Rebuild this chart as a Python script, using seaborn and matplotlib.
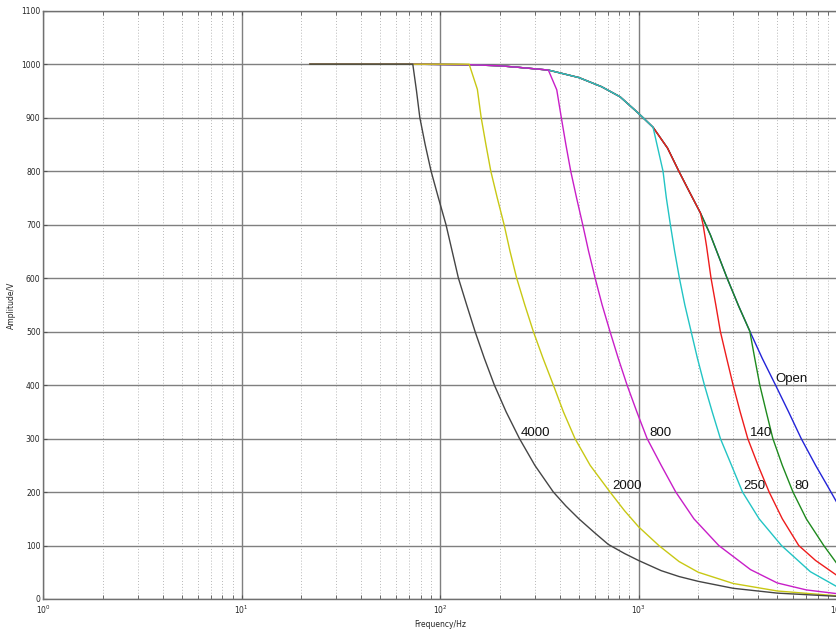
import numpy as np
import pandas as pd
import matplotlib
matplotlib.use("Agg")
import matplotlib.pyplot as plt
import seaborn as sns
from matplotlib.ticker import LogLocator, NullFormatter

# ---- data (frequency in Hz, amplitude in V) ----
env_f = [22, 72, 140, 200, 250, 351, 500, 650, 807, 1000, 1183, 1400, 1595, 1800, 2049, 2300, 2793, 3200, 3633]
env_v = [1000, 1000, 999, 997, 994, 989, 975, 958, 939, 908, 882, 843, 800, 762, 722, 681, 600, 547, 501]

open_f = env_f + [4200, 4900, 5700, 6600, 7800, 9000, 10000]
open_v = env_v + [450, 400, 350, 300, 250, 210, 180]

r80_f = env_f + [3850, 4083, 4400, 4750, 5300, 6000, 7000, 8575, 10000]
r80_v = env_v + [450, 400, 350, 300, 250, 200, 150, 100, 66]

r140_f = env_f[:15] + [2114, 2200, 2318, 2450, 2584, 2780, 2995, 3250, 3550, 4000, 4550, 5300, 6415, 7800, 10000]
r140_v = env_v[:15] + [700, 660, 600, 550, 500, 450, 400, 350, 300, 250, 200, 150, 100, 72, 44]

r250_f = env_f[:11] + [1328, 1380, 1446, 1520, 1606, 1710, 1840, 1980, 2147, 2350, 2584, 2940, 3340, 4050, 5250, 7343, 10000]
r250_v = env_v[:11] + [800, 750, 700, 650, 600, 550, 500, 450, 400, 350, 300, 250, 200, 150, 100, 51, 23]

r800_f = env_f[:6] + [387, 408, 430, 455, 487, 523, 560, 604, 655, 718, 790, 875, 980, 1104, 1300, 1540, 1900, 2536, 3664, 5000, 7000, 10000]
r800_v = env_v[:6] + [952, 900, 850, 800, 750, 700, 650, 600, 550, 500, 450, 400, 350, 300, 250, 200, 150, 100, 55, 30, 17, 10]

r2000_f = [22, 72, 140, 154, 161, 170, 180, 194, 210, 225, 243, 267, 295, 330, 372, 418, 478, 570, 718, 850, 1000, 1265, 1600, 2000, 3000, 5000, 10000]
r2000_v = [1000, 1000, 1000, 953, 900, 850, 800, 750, 700, 650, 600, 550, 500, 450, 400, 350, 300, 250, 200, 165, 135, 100, 70, 50, 29, 15, 6]

r4000_f = [22, 72.8, 76, 79, 84, 90, 98, 107, 115, 123.6, 136, 150, 167, 187.6, 215, 251, 300, 372, 430, 500, 600, 704, 850, 1000, 1300, 1600, 2000, 3000, 5000, 10000]
r4000_v = [1000, 1000, 950, 900, 850, 800, 750, 700, 650, 600, 550, 500, 450, 400, 350, 300, 250, 200, 174, 150, 124, 102, 85, 72, 53, 42, 33, 20, 11, 5]

series_names = ["Open", "80", "140", "250", "800", "2000", "4000"]
series_f = [open_f, r80_f, r140_f, r250_f, r800_f, r2000_f, r4000_f]
series_v = [open_v, r80_v, r140_v, r250_v, r800_v, r2000_v, r4000_v]
series_colors = ["#2323d8", "#1e8a1e", "#ee1c1c", "#22c4c4", "#c81ec8", "#c8c814", "#454545"]

# curve annotations (frequency, amplitude of the text's baseline-left)
label_text = ["4000", "2000", "800", "250", "140", "80", "Open"]
label_f = [255, 741, 1134, 3363, 3661, 6125, 4893]
label_v = [300, 200, 300, 200, 300, 200, 400]

y_ticks = list(range(0, 1101, 100))

frames = []
for name, f, v in zip(series_names, series_f, series_v):
    frames.append(pd.DataFrame({"Frequency": f, "Amplitude": v, "Curve": name}))
df = pd.concat(frames, ignore_index=True)

sns.set_style("white")
plt.rcParams["font.family"] = ["DejaVu Sans"]

fig = plt.figure(figsize=(8.37, 6.30), dpi=100)
ax = fig.add_axes([43.3 / 837, 31 / 630, 1 - 43.3 / 837, (599 - 10.7) / 630])

sns.lineplot(data=df, x="Frequency", y="Amplitude", hue="Curve",
             hue_order=series_names, palette=series_colors,
             estimator=None, sort=False, linewidth=1.0, legend=False, ax=ax)

ax.set_xscale("log")
ax.set_xlim(1, 10000)
ax.set_ylim(0, 1100)
ax.set_yticks(y_ticks)
ax.xaxis.set_major_locator(LogLocator(base=10, numticks=10))
ax.xaxis.set_minor_locator(LogLocator(base=10, subs=np.arange(2, 10), numticks=50))
ax.xaxis.set_minor_formatter(NullFormatter())

ax.grid(True, which="major", axis="both", color="#7f7f7f", linewidth=1.0, linestyle="-")
ax.grid(True, which="minor", axis="x", color="#b8b8b8", linewidth=0.7, linestyle=(0, (1, 2)))
ax.set_axisbelow(True)

ax.tick_params(axis="both", which="major", labelsize=5.5, direction="in", length=3,
               color="#555555", pad=2, top=True, bottom=True, left=True, right=False)
ax.tick_params(axis="x", which="major", pad=3)
ax.tick_params(axis="x", which="minor", direction="in", length=3, color="#555555",
               top=True, bottom=True)

for side in ["left", "bottom", "top"]:
    ax.spines[side].set_visible(True)
    ax.spines[side].set_color("#707070")
    ax.spines[side].set_linewidth(1.0)
ax.spines["right"].set_visible(False)

ax.set_xlabel("Frequency/Hz", fontsize=5.5, labelpad=3)
ax.set_ylabel("Amplitude/V", fontsize=5.5, labelpad=4)

for t, f, v in zip(label_text, label_f, label_v):
    ax.text(f, v, t, fontsize=9.5, color="#111111", ha="left", va="bottom",
            family=["Liberation Sans", "DejaVu Sans"])

fig.savefig("out.png", dpi=100)
